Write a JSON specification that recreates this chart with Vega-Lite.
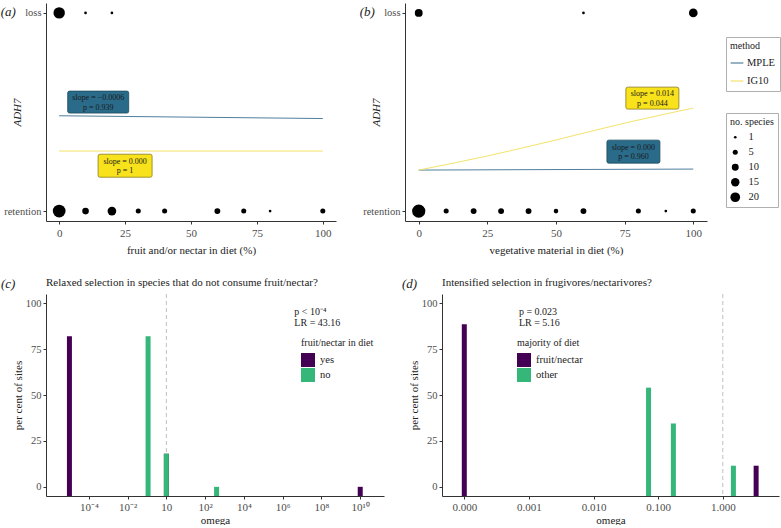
{
  "$schema": "https://vega.github.io/schema/vega-lite/v6.json",
  "padding": {"left": 0, "top": 3, "right": 0, "bottom": 0},
  "background": "white",
  "config": {
    "font": "Liberation Serif",
    "view": {"stroke": null},
    "axis": {"grid": false, "domainColor": "#333333", "tickColor": "#333333", "labelColor": "#4d4d4d", "labelFontSize": 11, "titleFontSize": 11, "titleFontWeight": "normal", "titleColor": "#222222", "tickSize": 3, "labelPadding": 3, "titlePadding": 6},
    "axisY": {"titleX": -24, "labelPadding": 2, "labelFontSize": 10.5},
    "legend": {"titleFontWeight": "normal", "titleFontSize": 10, "titleColor": "#222222", "labelFontSize": 10.5, "labelColor": "#222222"},
    "title": {"fontWeight": "normal", "fontSize": 11, "color": "#222222", "anchor": "start"}
  },
  "datasets": {
    "ptsA": [
      {"pct": 0, "adh7": 1, "n": 28}, {"pct": 10, "adh7": 1, "n": 1}, {"pct": 20, "adh7": 1, "n": 1},
      {"pct": 0, "adh7": 0, "n": 35}, {"pct": 10, "adh7": 0, "n": 9}, {"pct": 20, "adh7": 0, "n": 16},
      {"pct": 30, "adh7": 0, "n": 5}, {"pct": 40, "adh7": 0, "n": 5}, {"pct": 60, "adh7": 0, "n": 7},
      {"pct": 70, "adh7": 0, "n": 5}, {"pct": 80, "adh7": 0, "n": 1}, {"pct": 100, "adh7": 0, "n": 5}
    ],
    "ptsB": [
      {"pct": 0, "adh7": 1, "n": 13}, {"pct": 60, "adh7": 1, "n": 1}, {"pct": 100, "adh7": 1, "n": 16},
      {"pct": 0, "adh7": 0, "n": 38}, {"pct": 10, "adh7": 0, "n": 5}, {"pct": 20, "adh7": 0, "n": 7},
      {"pct": 30, "adh7": 0, "n": 7}, {"pct": 40, "adh7": 0, "n": 7}, {"pct": 50, "adh7": 0, "n": 4},
      {"pct": 60, "adh7": 0, "n": 7}, {"pct": 80, "adh7": 0, "n": 5}, {"pct": 90, "adh7": 0, "n": 1},
      {"pct": 100, "adh7": 0, "n": 5}
    ],
    "linesA": [
      {"method": "MPLE", "pct": 0, "adh7": 0.481}, {"method": "MPLE", "pct": 100, "adh7": 0.467},
      {"method": "IG10", "pct": 0, "adh7": 0.303}, {"method": "IG10", "pct": 100, "adh7": 0.303}
    ],
    "linesB": [
      {"method": "MPLE", "pct": 0, "adh7": 0.207}, {"method": "MPLE", "pct": 100, "adh7": 0.212},
      {"method": "IG10", "pct": 0, "adh7": 0.207}, {"method": "IG10", "pct": 25, "adh7": 0.278},
      {"method": "IG10", "pct": 50, "adh7": 0.359}, {"method": "IG10", "pct": 75, "adh7": 0.444},
      {"method": "IG10", "pct": 100, "adh7": 0.52}
    ],
    "labels": [
      {"id": "aM", "pct": 14.8, "adh7": 0.55, "label": "slope = −0.0006\np = 0.939"},
      {"id": "aI", "pct": 25, "adh7": 0.229, "label": "slope = 0.000\np = 1"},
      {"id": "bI", "pct": 85.1, "adh7": 0.57, "label": "slope = 0.014\np = 0.044"},
      {"id": "bM", "pct": 78.2, "adh7": 0.30, "label": "slope = 0.000\np = 0.960"}
    ],
    "barsC": [
      {"omega": 1, "pct": 18, "diet": "yes"},
      {"omega": 0.00001, "pct": 82, "diet": "yes"},
      {"omega": 10000000000, "pct": 0, "diet": "yes"},
      {"omega": 0.114, "pct": 82, "diet": "no"},
      {"omega": 1, "pct": 18, "diet": "no"},
      {"omega": 389, "pct": 0, "diet": "no"}
    ],
    "barsD": [
      {"omega": 0.0001, "pct": 88.5, "diet": "fruit/nectar"},
      {"omega": 3.28, "pct": 11.5, "diet": "fruit/nectar"},
      {"omega": 0.071, "pct": 54, "diet": "other"},
      {"omega": 0.172, "pct": 34.5, "diet": "other"},
      {"omega": 1.46, "pct": 11.5, "diet": "other"}
    ],
    "textC": [{"omega": 4000000, "pct": 98, "label": "p < 10⁻⁴\nLR = 43.16"}],
    "textD": [{"omega": 0.0007, "pct": 98, "label": "p = 0.023\nLR = 5.16"}],
    "ref": [{"omega": 1}]
  },
  "resolve": {"scale": {"color": "independent", "size": "independent"}},
  "spacing": 21,
  "vconcat": [
    {
      "spacing": 23,
      "resolve": {"scale": {"color": "independent", "size": "independent"}},
      "hconcat": [
        {
          "width": 290, "height": 218,
          "title": {"text": "(a)", "frame": "bounds", "fontStyle": "italic", "fontSize": 13, "dx": -3, "dy": 16, "offset": 0},
          "encoding": {
            "x": {"field": "pct", "type": "quantitative", "scale": {"domain": [-5, 105], "nice": false, "zero": false}, "axis": {"values": [0, 25, 50, 75, 100], "title": "fruit and/or nectar in diet (%)"}},
            "y": {"field": "adh7", "type": "quantitative", "scale": {"domain": [-0.05, 1.05], "nice": false, "zero": false}, "axis": {"values": [0, 1], "labelExpr": "datum.value == 1 ? 'loss' : 'retention'", "title": "ADH7", "titleFontStyle": "italic"}}
          },
          "layer": [
            {"data": {"name": "ptsA"}, "mark": {"type": "circle", "opacity": 1, "color": "black"},
             "encoding": {"size": {"field": "n", "type": "quantitative", "scale": {"domain": [1, 20], "range": [7.3, 94], "zero": false}, "legend": null}}},
            {"data": {"name": "linesA"}, "mark": {"type": "line", "strokeWidth": 1},
             "encoding": {"color": {"field": "method", "type": "nominal", "scale": {"domain": ["MPLE", "IG10"], "range": ["#4f7f9c", "#f3e36a"]}, "legend": null}}},
            {"data": {"name": "labels"}, "transform": [{"filter": "datum.id == 'aM'"}], "mark": {"type": "point", "shape": "M-0.94,-0.36H0.94Q1,-0.36 1,-0.3V0.3Q1,0.36 0.94,0.36H-0.94Q-1,0.36 -1,0.3V-0.3Q-1,-0.36 -0.94,-0.36Z", "size": 3721, "filled": true, "fill": "#2a6b8a", "stroke": "#1d4a5e", "strokeWidth": 0.8, "opacity": 1}},
            {"data": {"name": "labels"}, "transform": [{"filter": "datum.id == 'aI'"}], "mark": {"type": "point", "shape": "M-0.93,-0.426H0.93Q1,-0.426 1,-0.356V0.356Q1,0.426 0.93,0.426H-0.93Q-1,0.426 -1,0.356V-0.356Q-1,-0.426 -0.93,-0.426Z", "size": 2916, "filled": true, "fill": "#f8e21b", "stroke": "#8a7b1a", "strokeWidth": 0.8, "opacity": 1}},
            {"data": {"name": "labels"}, "transform": [{"filter": "datum.id == 'aM' || datum.id == 'aI'"}], "mark": {"type": "text", "lineBreak": "\n", "fontSize": 8, "lineHeight": 9.5, "color": "#1a1a1a", "dy": -4},
             "encoding": {"text": {"field": "label"}}}
          ]
        },
        {
          "width": 302, "height": 218,
          "title": {"text": "(b)", "frame": "bounds", "fontStyle": "italic", "fontSize": 13, "dx": -3, "dy": 16, "offset": 0},
          "encoding": {
            "x": {"field": "pct", "type": "quantitative", "scale": {"domain": [-5, 105], "nice": false, "zero": false}, "axis": {"values": [0, 25, 50, 75, 100], "title": "vegetative material in diet (%)"}},
            "y": {"field": "adh7", "type": "quantitative", "scale": {"domain": [-0.05, 1.05], "nice": false, "zero": false}, "axis": {"values": [0, 1], "labelExpr": "datum.value == 1 ? 'loss' : 'retention'", "title": "ADH7", "titleFontStyle": "italic"}}
          },
          "layer": [
            {"data": {"name": "ptsB"}, "mark": {"type": "circle", "opacity": 1, "color": "black"},
             "encoding": {"size": {"field": "n", "type": "quantitative", "title": "no. species", "scale": {"domain": [1, 20], "range": [7.3, 94], "zero": false},
               "legend": {"orient": "none", "legendX": 321, "legendY": 110, "values": [1, 5, 10, 15, 20], "strokeColor": "#b0b0b0", "fillColor": "white", "padding": 4, "symbolFillColor": "black", "symbolStrokeWidth": 0, "rowPadding": 4, "labelOffset": 8}}}},
            {"data": {"name": "linesB"}, "mark": {"type": "line", "strokeWidth": 1, "interpolate": "monotone"},
             "encoding": {"color": {"field": "method", "type": "nominal", "title": "method", "scale": {"domain": ["MPLE", "IG10"], "range": ["#4f7f9c", "#f3e36a"]},
               "legend": {"orient": "none", "legendX": 321, "legendY": 34, "strokeColor": "#b0b0b0", "fillColor": "white", "padding": 4, "symbolType": "stroke", "symbolSize": 160, "symbolStrokeWidth": 1.2, "rowPadding": 5, "labelOffset": 3}}}},
            {"data": {"name": "labels"}, "transform": [{"filter": "datum.id == 'bI'"}], "mark": {"type": "point", "shape": "M-0.93,-0.415H0.93Q1,-0.415 1,-0.345V0.345Q1,0.415 0.93,0.415H-0.93Q-1,0.415 -1,0.345V-0.345Q-1,-0.415 -0.93,-0.415Z", "size": 2809, "filled": true, "fill": "#f8e21b", "stroke": "#8a7b1a", "strokeWidth": 0.8, "opacity": 1}},
            {"data": {"name": "labels"}, "transform": [{"filter": "datum.id == 'bM'"}], "mark": {"type": "point", "shape": "M-0.93,-0.434H0.93Q1,-0.434 1,-0.364V0.364Q1,0.434 0.93,0.434H-0.93Q-1,0.434 -1,0.364V-0.364Q-1,-0.434 -0.93,-0.434Z", "size": 2809, "filled": true, "fill": "#2a6b8a", "stroke": "#1d4a5e", "strokeWidth": 0.8, "opacity": 1}},
            {"data": {"name": "labels"}, "transform": [{"filter": "datum.id == 'bM' || datum.id == 'bI'"}], "mark": {"type": "text", "lineBreak": "\n", "fontSize": 8, "lineHeight": 9.5, "color": "#1a1a1a", "dy": -4},
             "encoding": {"text": {"field": "label"}}}
          ]
        }
      ]
    },
    {
      "spacing": 18,
      "resolve": {"scale": {"color": "independent"}},
      "hconcat": [
        {
          "title": {"text": "(c)", "frame": "bounds", "fontStyle": "italic", "fontSize": 13, "dx": -11, "dy": 14, "offset": 0},
          "vconcat": [
            {
              "width": 338, "height": 202,
              "title": {"text": "Relaxed selection in species that do not consume fruit/nectar?", "frame": "group", "offset": 6},
              "layer": [
                {"data": {"name": "ref"}, "mark": {"type": "rule", "color": "#c0c0c0", "strokeDash": [4, 3], "strokeWidth": 1},
                 "encoding": {"x": {"field": "omega", "type": "quantitative"}}},
                {"data": {"name": "barsC"}, "mark": {"type": "bar", "size": 5},
                 "encoding": {
                   "x": {"field": "omega", "type": "quantitative", "scale": {"type": "log", "domain": [0.00000112, 93000000000], "nice": false}, "axis": {"values": [0.0001, 0.01, 1, 100, 10000, 1000000, 100000000, 10000000000], "labelExpr": "datum.value < 0.001 ? '10⁻⁴' : datum.value < 0.1 ? '10⁻²' : datum.value < 10 ? '10' : datum.value < 1000 ? '10²' : datum.value < 100000 ? '10⁴' : datum.value < 10000000 ? '10⁶' : datum.value < 1000000000 ? '10⁸' : '10¹⁰'", "title": "omega", "labelPadding": 2, "titlePadding": 2}},
                   "y": {"field": "pct", "type": "quantitative", "scale": {"domain": [-5, 105], "nice": false, "zero": false}, "axis": {"values": [0, 25, 50, 75, 100], "title": "per cent of sites", "titleX": -23}},
                   "y2": {"datum": -5},
                   "color": {"field": "diet", "type": "nominal", "title": "fruit/nectar in diet", "scale": {"domain": ["yes", "no"], "range": ["#440154", "#35b779"]},
                     "legend": {"orient": "none", "legendX": 255, "legendY": 44, "symbolType": "square", "symbolSize": 196, "symbolStrokeWidth": 0, "rowPadding": 1, "labelOffset": 5, "padding": 0}}
                 }},
                {"data": {"name": "textC"}, "mark": {"type": "text", "lineBreak": "\n", "fontSize": 10, "lineHeight": 11, "align": "left", "baseline": "top", "color": "#222222"},
                 "encoding": {"x": {"field": "omega", "type": "quantitative"}, "y": {"field": "pct", "type": "quantitative"}, "text": {"field": "label"}}}
              ]
            }
          ]
        },
        {
          "title": {"text": "(d)", "frame": "bounds", "fontStyle": "italic", "fontSize": 13, "dx": -6, "dy": 14, "offset": 0},
          "vconcat": [
            {
              "width": 337, "height": 202,
              "title": {"text": "Intensified selection in frugivores/nectarivores?", "frame": "group", "offset": 6},
              "layer": [
                {"data": {"name": "ref"}, "mark": {"type": "rule", "color": "#c0c0c0", "strokeDash": [4, 3], "strokeWidth": 1},
                 "encoding": {"x": {"field": "omega", "type": "quantitative"}}},
                {"data": {"name": "barsD"}, "mark": {"type": "bar", "size": 5},
                 "encoding": {
                   "x": {"field": "omega", "type": "quantitative", "scale": {"type": "log", "domain": [0.000054, 6.2], "nice": false}, "axis": {"values": [0.0001, 0.001, 0.01, 0.1, 1], "format": ".3f", "title": "omega", "labelPadding": 2, "titlePadding": 2}},
                   "y": {"field": "pct", "type": "quantitative", "scale": {"domain": [-5, 105], "nice": false, "zero": false}, "axis": {"values": [0, 25, 50, 75, 100], "title": "per cent of sites", "titleX": -23}},
                   "y2": {"datum": -5},
                   "color": {"field": "diet", "type": "nominal", "title": "majority of diet", "scale": {"domain": ["fruit/nectar", "other"], "range": ["#440154", "#35b779"]},
                     "legend": {"orient": "none", "legendX": 75, "legendY": 44, "symbolType": "square", "symbolSize": 196, "symbolStrokeWidth": 0, "rowPadding": 1, "labelOffset": 5, "padding": 0}}
                 }},
                {"data": {"name": "textD"}, "mark": {"type": "text", "lineBreak": "\n", "fontSize": 10, "lineHeight": 11, "align": "left", "baseline": "top", "color": "#222222"},
                 "encoding": {"x": {"field": "omega", "type": "quantitative"}, "y": {"field": "pct", "type": "quantitative"}, "text": {"field": "label"}}}
              ]
            }
          ]
        }
      ]
    }
  ]
}
